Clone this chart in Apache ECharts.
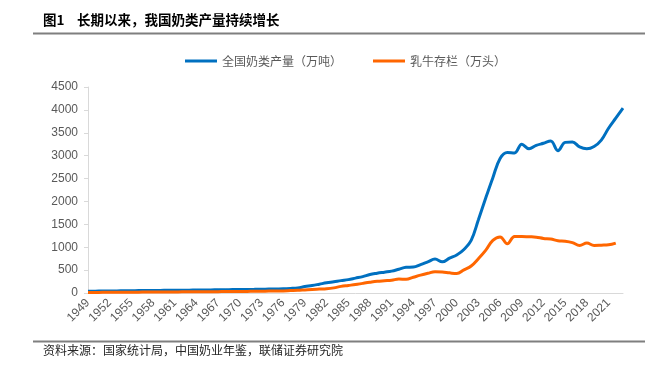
<!DOCTYPE html>
<html>
<head>
<meta charset="utf-8">
<script src="https://cdn.jsdelivr.net/npm/echarts@6/dist/echarts.min.js"></script>
<style>
  html, body { margin: 0; padding: 0; background: #fff; }
  #chart { width: 659px; height: 365px; }
</style>
</head>
<body>
<div id="chart"></div>
<script>
// 年份 1949-2023
const years = [
    "1949", "1950", "1951", "1952", "1953", "1954", "1955", "1956", "1957", "1958",
    "1959", "1960", "1961", "1962", "1963", "1964", "1965", "1966", "1967", "1968",
    "1969", "1970", "1971", "1972", "1973", "1974", "1975", "1976", "1977", "1978",
    "1979", "1980", "1981", "1982", "1983", "1984", "1985", "1986", "1987", "1988",
    "1989", "1990", "1991", "1992", "1993", "1994", "1995", "1996", "1997", "1998",
    "1999", "2000", "2001", "2002", "2003", "2004", "2005", "2006", "2007", "2008",
    "2009", "2010", "2011", "2012", "2013", "2014", "2015", "2016", "2017", "2018",
    "2019", "2020", "2021", "2022", "2023"
];

// 全国奶类产量（万吨）
const milkOutput = [
    38, 40, 42, 44, 46, 48, 50, 52, 54, 56,
    57, 58, 59, 60, 62, 64, 66, 68, 70, 72,
    74, 76, 78, 80, 83, 86, 89, 92, 100, 112,
    140, 163, 192, 222, 245, 270, 292, 325, 358, 405,
    432, 455, 478, 520, 562, 568, 620, 680, 740, 680,
    760, 830, 950, 1150, 1600, 2070, 2520, 2940, 3070, 3060,
    3250, 3150, 3225, 3270, 3320, 3110, 3290, 3300, 3190, 3150,
    3200, 3340, 3600, 3820, 4040
];

// 乳牛存栏（万头），数据到2022年
const dairyCows = [
    12, 13, 14, 15, 16, 17, 18, 19, 20, 21,
    22, 23, 24, 25, 26, 27, 28, 29, 30, 31,
    32, 34, 35, 37, 39, 41, 43, 46, 52, 58,
    68, 78, 85, 92, 112, 145, 165, 185, 210, 234,
    255, 268, 280, 305, 300, 345, 390, 430, 465, 460,
    440, 425, 505, 590, 750, 930, 1150, 1225, 1075, 1235,
    1235, 1228, 1220, 1192, 1180, 1140, 1130, 1100, 1040, 1090,
    1040, 1045, 1052, 1090
];

const FONT = "'Noto Sans CJK SC', 'Liberation Sans', sans-serif";

const chart = echarts.init(document.getElementById("chart"), null, { renderer: "canvas" });

chart.setOption({
    animation: false,
    textStyle: { fontFamily: FONT },
    grid: { left: 88, right: 36, top: 87, bottom: 72 },
    legend: {
        left: 180,
        top: 50,
        icon: "rect",
        itemWidth: 32,
        itemHeight: 3,
        itemGap: 31,
        textStyle: { fontSize: 12, color: "#595959", fontFamily: FONT },
        data: ["全国奶类产量（万吨）", "乳牛存栏（万头）"],
    },
    xAxis: {
        type: "category",
        data: years,
        boundaryGap: false,
        axisLine: { lineStyle: { color: "#d9d9d9", width: 1 } },
        axisTick: { show: false },
        axisLabel: {
            interval: 2,
            rotate: 45,
            fontSize: 12,
            color: "#595959",
            margin: 8,
            fontFamily: "'Liberation Sans', Arial, sans-serif",
        },
    },
    yAxis: {
        type: "value",
        min: 0,
        max: 4500,
        interval: 500,
        axisLine: { show: true, lineStyle: { color: "#d9d9d9", width: 1 } },
        axisTick: { show: true, length: 4, lineStyle: { color: "#d9d9d9" } },
        splitLine: { show: false },
        axisLabel: {
            fontSize: 12,
            color: "#595959",
            margin: 10,
            formatter: (v) => String(v),
            fontFamily: "'Liberation Sans', Arial, sans-serif",
        },
    },
    series: [
        {
            name: "全国奶类产量（万吨）",
            type: "line",
            data: milkOutput,
            smooth: 0.4,
            symbol: "none",
            lineStyle: { width: 3, color: "#0070C0" },
            itemStyle: { color: "#0070C0" },
            z: 3,
        },
        {
            name: "乳牛存栏（万头）",
            type: "line",
            data: dairyCows,
            smooth: 0.4,
            symbol: "none",
            lineStyle: { width: 3, color: "#FF6600" },
            itemStyle: { color: "#FF6600" },
            z: 4,
        },
    ],
    graphic: [
        {
            type: "text", left: 43, top: 13,
            style: { text: "图1", font: "bold 13.5px " + FONT, fill: "#000" },
        },
        {
            type: "text", left: 77, top: 13,
            style: { text: "长期以来，我国奶类产量持续增长", font: "bold 13.5px " + FONT, fill: "#000" },
        },
        {
            type: "line",
            shape: { x1: 33, y1: 33.5, x2: 645, y2: 33.5 },
            style: { stroke: "#7f7f7f", lineWidth: 2 },
        },
        {
            type: "line",
            shape: { x1: 33, y1: 341.5, x2: 645, y2: 341.5 },
            style: { stroke: "#7f7f7f", lineWidth: 2 },
        },
        {
            type: "text", left: 43, top: 344,
            style: { text: "资料来源：国家统计局，中国奶业年鉴，联储证券研究院", font: "12px " + FONT, fill: "#262626" },
        },
    ],
});
</script>
</body>
</html>
